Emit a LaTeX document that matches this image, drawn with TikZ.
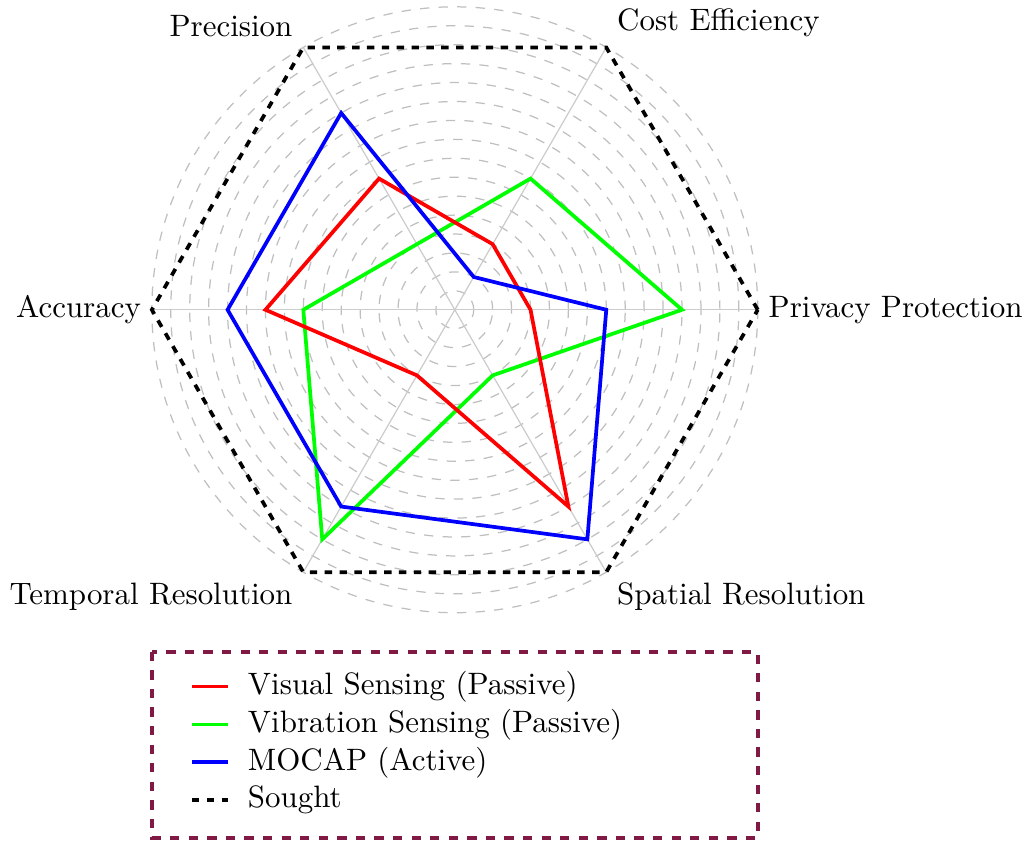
\documentclass[tikz,border=0pt]{standalone}
\definecolor{legendred}{RGB}{128,26,68}

\begin{document}
\begin{tikzpicture}%
    [x=0.43cm,
    y=0.43cm,
    grid/.style={gray!50, dashed, thin},
    spoke/.style={gray!40, thin},
    axislabel/.style={text=black},
    visual/.style={red, very thick},
    vibration/.style={green, very thick},
    mocap/.style={blue, very thick},
    sought/.style={black, very thick, dash pattern=on 2.4pt off 2.4pt},
    legendbox/.style={draw=legendred, very thick, dashed}
    ]
    \useasboundingbox (-12.01,-14.05) rectangle (15.11,8.18);

    % rings and axes
    \foreach \r in {0.5,1,...,8}
        \draw[grid] (0,0) circle (\r);
    \foreach \a/\name/\lbl/\anc in {0/privacy/Privacy Protection/west,
                                    60/cost/Cost Efficiency/south west,
                                    120/precision/Precision/south east,
                                    180/accuracy/Accuracy/east,
                                    240/temporal/Temporal Resolution/north east,
                                    300/spatial/Spatial Resolution/north west}
        \draw[spoke] (0,0) -- (\a:8) node[axislabel, anchor=\anc] (\name) {\lbl};

    % AXIS ORDER: privacy, cost, precision, accuracy, temporal, spatial
    \draw[vibration] (0:6) -- (60:4) -- (120:2) -- (180:4) -- (240:7) -- (300:2) -- cycle;
    \draw[visual]    (0:2) -- (60:2) -- (120:4) -- (180:5) -- (240:2) -- (300:6) -- cycle;
    \draw[mocap]     (0:4) -- (60:1) -- (120:6) -- (180:6) -- (240:6) -- (300:7) -- cycle;
    \draw[sought]    (0:8) -- (60:8) -- (120:8) -- (180:8) -- (240:8) -- (300:8) -- cycle;

    % legend
    \draw[legendbox] (-8,-9.03) rectangle (8,-13.94);
    \foreach \y/\st/\txt/\name in {-9.95/visual/Visual Sensing (Passive)/legvisual,
                                   -10.95/vibration/Vibration Sensing (Passive)/legvibration,
                                   -11.95/mocap/MOCAP (Active)/legmocap,
                                   -12.95/sought/Sought/legsought}
    {
        \node[anchor=west] (\name) at (-5.75,\y) {\txt};
        \draw[\st] (-6.94,\y) -- (-5.99,\y);
    }
\end{tikzpicture}
\end{document}
